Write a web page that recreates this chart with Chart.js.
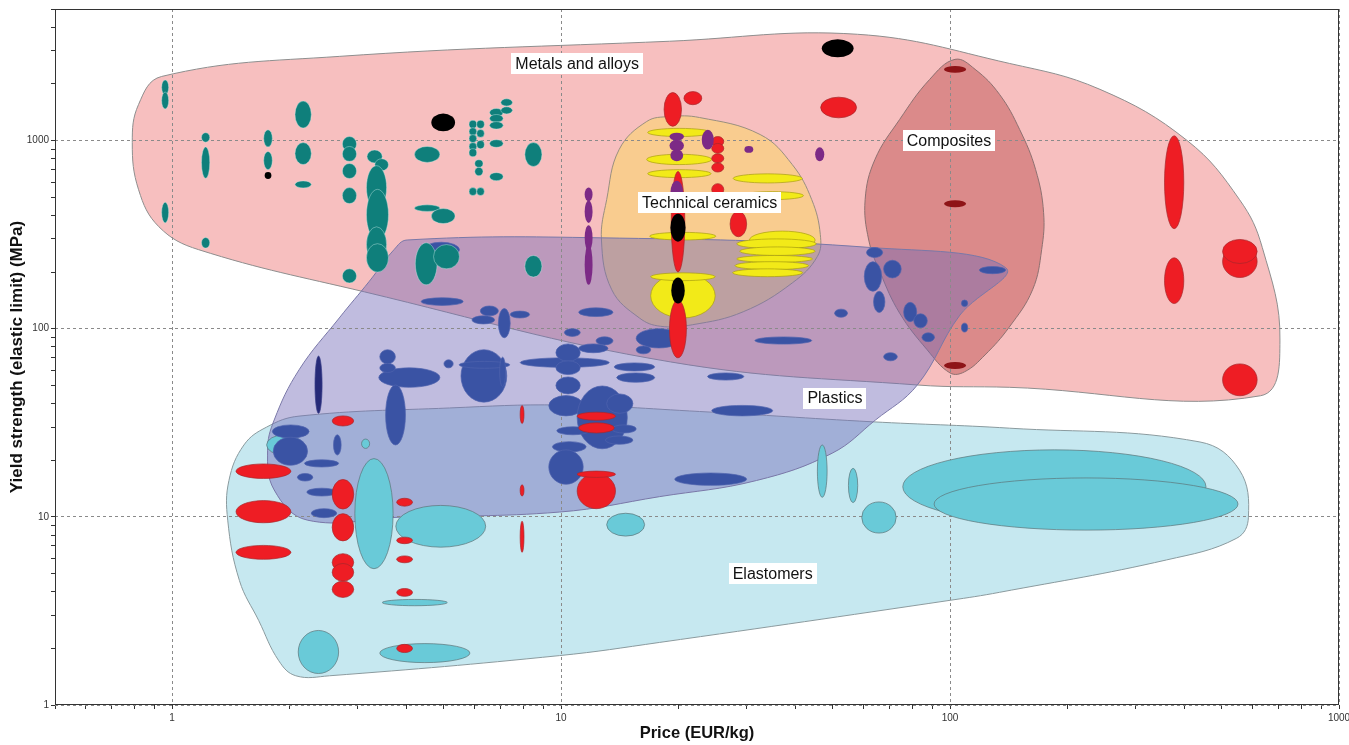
<!DOCTYPE html>
<html><head><meta charset="utf-8">
<script src="https://cdn.jsdelivr.net/npm/chart.js@4.4.1/dist/chart.umd.min.js"></script>
<style>html,body{margin:0;padding:0;background:#fff}#wrap{width:1349px;height:745px;position:relative}</style>
</head><body><div id="wrap"><canvas id="c"></canvas></div>
<script>
// ---- axes ----
const xMin = 0.5, xMax = 1000;
const yMin = 1, yMax = 5000;
const xTickLabels = ['1', '10', '100', '1000'];
const yTickLabels = ['1', '10', '100', '1000'];
const xTitle = 'Price (EUR/kg)';
const yTitle = 'Yield strength (elastic limit) (MPa)';

// ---- family envelopes: [price, yield strength] vertices ----
const metalsEnvelope = [[0.94,2190],[2.69,2800],[19,3370],[57.8,3670],[142,2570],[243,1870],[407,1000],[555,485],[635,270],[705,87],[628,44],[142,48.8],[82.4,50.2],[19.1,66.6],[3.12,157],[1.17,263],[0.925,348],[0.82,548],[0.79,975],[0.82,1555]];
const ceramicsEnvelope = [[19,1340],[22.7,1325],[32.5,1076],[39.3,745],[44.1,485],[46.4,316],[45.6,242],[39.3,175],[29.4,123],[21.8,105],[18,103],[15.9,114],[13.5,161],[12.7,296],[13.1,485],[14.1,895],[16.6,1262]];
const compositesEnvelope = [[103,2700],[116,2390],[134,1760],[151,1144],[166,700],[174,414],[172,263],[163,161],[142,102],[123,72.5],[109,59],[100,58.2],[87.3,77.3],[74.2,121],[66.2,198],[61.8,296],[60.5,485],[64.1,792],[74.2,1293],[88.6,2110]];
const elastomersEnvelope = [[2.12,34.3],[5.17,37.9],[9.93,39.3],[22.7,36.3],[63.1,32],[142,29.6],[439,25],[555,17.7],[585,9.95],[546,7.7],[360,5.9],[134,3.97],[100,3.6],[17.9,2.15],[9.9,1.83],[2.54,1.43],[2.08,1.43],[1.88,1.72],[1.67,2.81],[1.49,4.58],[1.39,9.6],[1.40,15.6],[1.53,24.1],[1.75,30]];
const plasticsEnvelope = [[4.02,296],[12.6,304],[62.5,270],[139,211],[106,118],[82.4,50.2],[64.3,32.7],[49.8,21.8],[31.8,15.6],[17.9,12.8],[9.9,10.6],[3.84,9.95],[2.23,9.6],[1.83,13.9],[1.76,22.6],[1.83,32.7],[2.12,60.4],[2.69,114],[3.21,178],[3.72,263]];

// ---- family labels ----
const familyNames = ['Metals and alloys', 'Technical ceramics', 'Composites', 'Plastics', 'Elastomers'];
const familyLabelX = [11, 24.1, 99.4, 50.6, 35];
const familyLabelY = [2570, 468, 1000, 42.8, 5.0];

// ---- material property ranges: [price low, price high, strength low, strength high] ----
const elastomerRanges = [
[1.75,2.16,21.3,27.3],[3.07,3.22,23.1,25.9],[2.95,3.7,5.3,20.4],[3.76,6.4,6.9,11.5],[3.47,5.1,3.37,3.64],
[3.42,5.83,1.68,2.12],[2.11,2.68,1.47,2.49],[13.1,16.4,7.9,10.45],[45.6,48.3,12.7,24.1],[54.8,57.9,11.9,18.1],
[59.3,72.7,8.2,12],[75.6,455,9.2,22.7],[91,550,8.5,16.1]];
const plasticRanges = [
[4.42,5.48,240,288],[1.81,2.25,26.2,30.8],[1.82,2.23,18.8,26.5],[2.19,2.68,18.4,20.1],[2.1,2.3,15.5,17],
[2.22,2.65,12.9,14.2],[2.28,2.65,9.9,11.05],[2.6,2.72,21.3,27.3],[3.4,4.88,48.8,61.9],[3.42,3.75,65,77.3],
[3.42,3.75,58.5,65.4],[3.54,3.98,24.1,50.2],[5.0,5.28,61.9,68.3],[5.53,7.25,40.7,77.3],[5.47,7.38,61.6,67],
[6.95,7.2,49.1,70.6],[4.37,5.6,133,146],[6.2,6.9,117,132],[5.9,6.75,106,117],[6.9,7.4,89.5,128],
[7.4,8.3,114,124],[11.1,13.6,116,129],[10.2,11.2,91,100],[12.3,13.6,82,90.5],[11.1,13.2,74.5,83],
[15.6,20.4,79,100],[15.6,17,73.5,81],[7.85,13.3,62.3,70],[9.7,11.2,67,83],[9.7,11.2,57,67.5],
[9.7,11.2,45,55.4],[13.7,17.4,59.6,65.8],[13.9,17.4,51.9,58.2],[9.3,11.4,34.4,44.1],[11,14.8,23,49.6],
[13.1,15.3,35.5,45],[9.75,11.8,27.3,30.1],[13.5,15.6,27.9,30.8],[13,15.3,24.3,26.9],[9.5,11.6,22.1,25.1],
[9.3,11.4,14.9,22.7],[23.8,29.5,53.3,58.2],[24.4,35,34.4,39.1],[19.6,30,14.7,17.1],[31.5,44.1,82.8,90.4],
[61,67.1,239,270],[60.2,66.7,158,227],[67.5,74.9,186,231],[63.6,68,122,158],[50.5,54.5,115,127],
[76,82.1,109,138],[80.7,87.4,101,120],[84.7,91.2,85.3,95],[67.5,73.2,67.5,74.5],[107,111,131,142],
[107,111,96,107],[119,139,196,214]];
const foamRanges = [[2.33,2.43,35.5,71.5]];
const metalRanges = [
[0.94,0.98,1750,2100],[0.94,0.98,1470,1810],[0.94,0.98,365,470],[1.19,1.25,980,1100],[1.19,1.25,630,925],
[1.19,1.25,268,305],[1.72,1.81,925,1140],[1.72,1.81,700,875],[2.07,2.28,1165,1620],[2.07,2.28,745,975],
[2.07,2.28,560,610],[2.74,2.98,875,1050],[2.74,2.98,775,930],[2.74,2.98,628,755],[2.74,2.98,462,562],
[2.74,2.98,175,208],[3.17,3.47,760,890],[3.32,3.6,690,800],[3.16,3.56,430,735],[3.16,3.6,296,550],
[3.16,3.56,225,348],[3.16,3.6,200,283],[4.2,4.88,765,930],[4.2,4.88,420,455],[4.64,5.34,362,435],
[5.8,6.07,1160,1280],[6.07,6.35,1160,1280],[5.8,6.07,1065,1170],[6.07,6.35,1040,1145],[5.8,6.07,975,1075],
[6.07,6.35,905,1000],[5.8,6.07,885,975],[5.8,6.07,820,905],[6.0,6.3,720,790],[6.0,6.3,650,720],
[5.8,6.07,510,562],[6.07,6.35,510,562],[6.55,7.1,1340,1480],[6.55,7.1,1250,1375],[6.55,7.1,1150,1260],
[6.55,7.1,920,1010],[6.55,7.1,612,675],[7.0,7.5,1525,1665],[7.0,7.5,1385,1510],[8.07,8.93,728,975],
[8.07,8.93,188,245],[4.22,4.8,171,286],[4.7,5.48,208,280]];
const ceramicRanges = [
[16.7,24.3,1050,1160],[16.6,24.4,745,845],[16.7,24.3,635,700],[27.7,41.7,595,665],[29,42,485,535],
[16.9,25,296,325],[30.5,45,265,330],[28.3,45.3,266,300],[28.8,45,245,272],[28.3,44.3,225,245],
[28,43.3,206,227],[27.6,41.8,189,208],[17,24.9,114,196],[17,24.9,180,198]];
const naturalRanges = [
[18.4,20.4,1190,1800],[20.7,23,1550,1820],[46.5,57.5,1320,1700],[24.4,26.2,930,1050],[24.4,26.2,855,965],
[24.4,26.2,760,850],[24.4,26.2,680,760],[24.4,26.2,510,590],[27.2,30,308,420],[19.2,20.8,200,685],
[19,21,70,142],[1.46,2.02,16,19.1],[1.46,2.02,9.3,12.2],[1.46,2.02,5.95,7.05],[2.58,2.93,30.4,34.4],
[2.58,2.93,11,15.8],[2.58,2.93,7.45,10.4],[2.58,2.93,5.15,6.37],[2.58,2.93,4.55,5.65],[2.58,2.93,3.73,4.55],
[3.78,4.15,11.4,12.55],[3.78,4.15,7.2,7.8],[3.78,4.15,5.7,6.2],[3.78,4.15,3.78,4.16],[3.78,4.15,1.9,2.1],
[7.85,8.03,31.3,39.1],[7.85,8.03,12.9,14.8],[7.85,8.03,6.48,9.47],[11,13.8,32.6,36],[11.1,13.7,27.9,31.6],
[11,13.8,11.05,17],[11,13.8,16.2,17.5],[356,399,340,1060],[356,399,136,238],[502,616,187,277],
[502,616,222,298],[502,616,44,65]];
const glassRanges = [
[23,24.7,895,1140],[29.6,31.2,860,935],[45,47.5,775,920],[19,20.7,1000,1100],[19,20.7,875,1010],
[19.1,20.6,775,895],[19.1,20.6,455,612],[11.5,12.05,475,562],[11.5,12.05,365,480],[11.5,12.05,260,355],
[11.5,12.05,171,280]];
const carbonRanges = [[1.73,1.80,625,680],[4.64,5.34,1120,1390],[46.8,56.5,2770,3450],[19.1,20.9,290,408],[19.2,20.8,136,187]];
const compositeRanges = [[96.5,110,2290,2490],[96.5,110,442,482],[96.5,110,61,66.5]];

// ---- styles ----
const FONT = 'Liberation Sans, Arial, sans-serif';
const envelopeStyles = [
  {pts: metalsEnvelope, fill: '#f7bfbf', stroke: '#8e8e8e'},
  {pts: ceramicsEnvelope, fill: '#f9cc8f', stroke: '#9a8f80'},
  {pts: compositesEnvelope, fill: '#db8a8a', stroke: '#8e7070'},
  {pts: elastomersEnvelope, fill: '#c6e8f0', stroke: '#8a9a9e'},
  {pts: plasticsEnvelope, fill: 'rgba(115,106,184,0.45)', stroke: '#7a78a8'}
];
const bubbleStyles = [
  {r: elastomerRanges, fill: '#69cad8', stroke: '#5b7479'},
  {r: plasticRanges, fill: '#3a53a4', stroke: '#4f63ad'},
  {r: foamRanges, fill: '#262a78', stroke: '#3a3f8a'},
  {r: metalRanges, fill: '#0f7f7b', stroke: 'rgba(200,235,232,0.6)'},
  {r: ceramicRanges, fill: '#f2ea18', stroke: '#a99f10'},
  {r: naturalRanges, fill: '#ee1d24', stroke: '#a8262b'},
  {r: glassRanges, fill: '#7c2a86', stroke: null},
  {r: carbonRanges, fill: '#000000', stroke: null},
  {r: compositeRanges, fill: '#8e1417', stroke: null}
];

function isDecade(v) { const l = Math.log10(v); return Math.abs(l - Math.round(l)) < 1e-9; }
function logTicks(min, max) {
  const t = [];
  for (let e = -1; e <= 4; e++) for (let m = 1; m < 10; m++) {
    const v = +(m * Math.pow(10, e)).toPrecision(6);
    if (v >= min * 0.999 && v <= max * 1.001) t.push({value: v});
  }
  return t;
}
function tickLabel(v, list) { const s = String(+(+v).toPrecision(6)); return (isDecade(v) && list.includes(s)) ? s : ''; }

function splinePath(ctx, pts, t) {
  const n = pts.length;
  const cps = pts.map((p, i) => {
    const a = pts[(i - 1 + n) % n], b = pts[(i + 1) % n];
    const d01 = Math.hypot(p.x - a.x, p.y - a.y), d12 = Math.hypot(b.x - p.x, b.y - p.y);
    const s01 = d01 / (d01 + d12) || 0, s12 = d12 / (d01 + d12) || 0;
    const fa = t * s01, fb = t * s12;
    return {px: p.x - fa * (b.x - a.x), py: p.y - fa * (b.y - a.y), nx: p.x + fb * (b.x - a.x), ny: p.y + fb * (b.y - a.y)};
  });
  ctx.beginPath();
  ctx.moveTo(pts[0].x, pts[0].y);
  for (let i = 0; i < n; i++) {
    const j = (i + 1) % n;
    ctx.bezierCurveTo(cps[i].nx, cps[i].ny, cps[j].px, cps[j].py, pts[j].x, pts[j].y);
  }
  ctx.closePath();
}

const ashbyPlugin = {
  id: 'ashby',
  beforeDraw(chart) {
    const {ctx, chartArea: a, scales: {x, y}} = chart;
    ctx.save();
    ctx.beginPath(); ctx.rect(a.left, a.top, a.right - a.left, a.bottom - a.top); ctx.clip();
    for (const e of envelopeStyles) {
      const pts = e.pts.map(p => ({x: x.getPixelForValue(p[0]), y: y.getPixelForValue(p[1])}));
      splinePath(ctx, pts, 0.4);
      ctx.fillStyle = e.fill; ctx.fill();
      ctx.lineWidth = 1; ctx.strokeStyle = e.stroke; ctx.stroke();
    }
    ctx.restore();
  },
  afterDatasetsDraw(chart) {
    const {ctx, chartArea: a, scales: {x, y}} = chart;
    ctx.save();
    ctx.beginPath(); ctx.rect(a.left, a.top, a.right - a.left, a.bottom - a.top); ctx.clip();
    for (const g of bubbleStyles) {
      for (const r of g.r) {
        const x1 = x.getPixelForValue(r[0]), x2 = x.getPixelForValue(r[1]);
        const y1 = y.getPixelForValue(r[2]), y2 = y.getPixelForValue(r[3]);
        ctx.beginPath();
        ctx.ellipse((x1 + x2) / 2, (y1 + y2) / 2, Math.abs(x2 - x1) / 2, Math.abs(y2 - y1) / 2, 0, 0, Math.PI * 2);
        ctx.fillStyle = g.fill; ctx.fill();
        if (g.stroke) { ctx.lineWidth = 0.7; ctx.strokeStyle = g.stroke; ctx.stroke(); }
      }
    }
    ctx.restore();
  },
  afterDraw(chart) {
    const {ctx, chartArea: a, scales: {x, y}} = chart;
    ctx.save();
    ctx.font = '16px ' + FONT;
    ctx.textAlign = 'center'; ctx.textBaseline = 'middle';
    familyNames.forEach((name, i) => {
      const cx = x.getPixelForValue(familyLabelX[i]), cy = y.getPixelForValue(familyLabelY[i]);
      const w = ctx.measureText(name).width + 8, h = 21;
      ctx.fillStyle = '#ffffff';
      ctx.fillRect(Math.round(cx - w / 2), Math.round(cy - h / 2), Math.round(w), h);
      ctx.fillStyle = '#111111';
      ctx.fillText(name, cx, cy + 1);
    });
    ctx.strokeStyle = '#333'; ctx.lineWidth = 1;
    ctx.strokeRect(Math.round(a.left) + 0.5, Math.round(a.top) + 0.5, Math.round(a.right - a.left) - 1, Math.round(a.bottom - a.top) - 1);
    ctx.restore();
  }
};

const gridColor = c => (c.tick && isDecade(c.tick.value)) ? '#8a8a8a' : 'rgba(0,0,0,0)';

new Chart(document.getElementById('c'), {
  type: 'scatter',
  data: {datasets: []},
  options: {
    responsive: true, maintainAspectRatio: false, animation: false,
    layout: {padding: {top: 9, right: 10, left: 0, bottom: 0}},
    plugins: {legend: {display: false}, tooltip: {enabled: false}},
    scales: {
      x: {
        type: 'logarithmic', min: xMin, max: xMax, position: 'bottom',
        afterBuildTicks: s => { s.ticks = logTicks(xMin, xMax); },
        afterFit: s => { s.height = 40; s.paddingLeft = 0; s.paddingRight = 0; },
        ticks: {autoSkip: false, maxRotation: 0, padding: 3, color: '#333', font: {family: FONT, size: 10},
          callback: v => tickLabel(v, xTickLabels)},
        grid: {color: gridColor, tickColor: '#333', tickLength: 4, lineWidth: 1},
        border: {display: false, dash: [3, 3]},
        title: {display: true, text: xTitle, color: '#111', font: {family: FONT, size: 16.5, weight: 'bold'}, padding: {top: 0, bottom: 2}}
      },
      y: {
        type: 'logarithmic', min: yMin, max: yMax, position: 'left',
        afterBuildTicks: s => { s.ticks = logTicks(yMin, yMax); },
        afterFit: s => { s.width = 55; s.paddingTop = 0; s.paddingBottom = 0; },
        ticks: {autoSkip: false, padding: 2, color: '#333', font: {family: FONT, size: 10},
          callback: v => tickLabel(v, yTickLabels)},
        grid: {color: gridColor, tickColor: '#333', tickLength: 4, lineWidth: 1},
        border: {display: false, dash: [3, 3]},
        title: {display: true, text: yTitle, color: '#111', font: {family: FONT, size: 17, weight: 'bold'}, padding: {top: 7, bottom: 0}}
      }
    }
  },
  plugins: [ashbyPlugin]
});
</script>
</body></html>
